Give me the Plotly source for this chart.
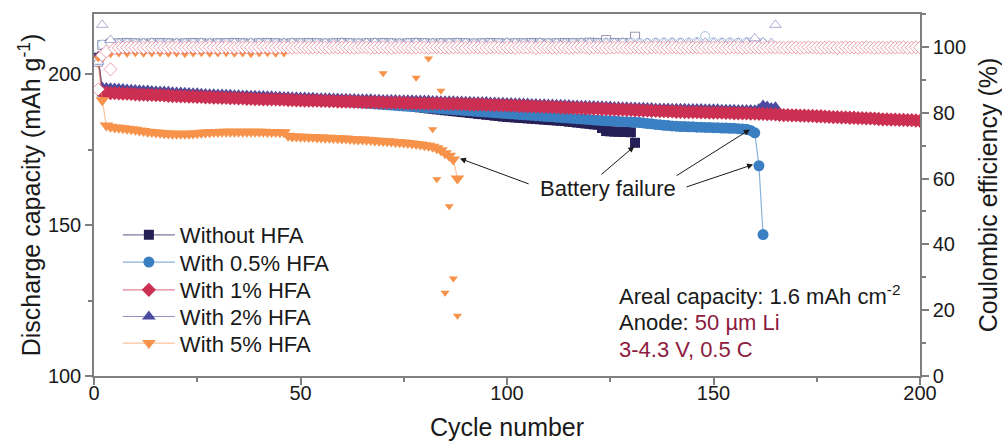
import plotly.graph_objects as go

# ---------------- data (discharge capacity, one value per cycle, rows of 10 cycles) ----------------
cap_navy = [
    205.5, 194.3, 194.2, 194.1, 194.1, 194.0, 193.9, 193.9, 193.8, 193.7,
    193.6, 193.6, 193.5, 193.5, 193.4, 193.4, 193.3, 193.2, 193.1, 193.1,
    193.0, 193.0, 192.9, 192.9, 192.8, 192.8, 192.7, 192.7, 192.6, 192.6,
    192.5, 192.5, 192.4, 192.4, 192.3, 192.3, 192.2, 192.2, 192.1, 192.1,
    192.0, 192.0, 192.0, 192.0, 191.9, 191.9, 191.8, 191.8, 191.7, 191.7,
    191.6, 191.6, 191.6, 191.6, 191.5, 191.5, 191.4, 191.4, 191.3, 191.3,
    191.2, 191.2, 191.1, 191.1, 191.0, 191.0, 190.9, 190.9, 190.8, 190.7,
    190.5, 190.4, 190.2, 190.1, 189.9, 189.7, 189.5, 189.3, 189.1, 188.9,
    188.7, 188.6, 188.4, 188.3, 188.1, 188.0, 187.8, 187.7, 187.5, 187.4,
    187.2, 187.1, 186.9, 186.8, 186.6, 186.5, 186.3, 186.2, 186.0, 185.9,
    185.8, 185.7, 185.6, 185.5, 185.4, 185.3, 185.2, 185.1, 185.0, 184.9,
    184.8, 184.7, 184.6, 184.5, 184.3, 184.2, 184.0, 183.9, 183.7, 183.6,
    183.4, 183.3, 182.2, 181.2, 181.1, 181.0, 181.0, 180.9, 180.9, 180.8,
    177.3]
cap_blue = [
    205.3, 194.3, 194.2, 194.1, 194.1, 194.0, 193.9, 193.9, 193.8, 193.7,
    193.6, 193.6, 193.5, 193.5, 193.4, 193.4, 193.3, 193.2, 193.1, 193.1,
    193.0, 193.0, 192.9, 192.9, 192.8, 192.8, 192.7, 192.7, 192.6, 192.6,
    192.5, 192.5, 192.4, 192.4, 192.3, 192.3, 192.2, 192.2, 192.1, 192.1,
    192.0, 192.0, 191.9, 191.9, 191.8, 191.8, 191.7, 191.7, 191.6, 191.6,
    191.5, 191.5, 191.4, 191.4, 191.3, 191.3, 191.2, 191.2, 191.1, 191.0,
    190.9, 190.8, 190.7, 190.6, 190.5, 190.4, 190.3, 190.2, 190.1, 190.0,
    189.9, 189.8, 189.7, 189.6, 189.5, 189.4, 189.3, 189.2, 189.1, 189.0,
    188.9, 188.8, 188.7, 188.6, 188.5, 188.4, 188.3, 188.2, 188.1, 188.0,
    187.9, 187.8, 187.7, 187.6, 187.5, 187.4, 187.3, 187.2, 187.1, 187.0,
    186.9, 186.8, 186.7, 186.6, 186.5, 186.4, 186.3, 186.2, 186.1, 186.0,
    185.9, 185.8, 185.7, 185.6, 185.5, 185.4, 185.3, 185.2, 185.1, 185.0,
    184.9, 184.8, 184.7, 184.6, 184.6, 184.5, 184.4, 184.3, 184.3, 184.2,
    184.1, 184.0, 183.9, 183.7, 183.6, 183.4, 183.3, 183.1, 183.0, 182.9,
    182.8, 182.7, 182.7, 182.6, 182.6, 182.5, 182.5, 182.4, 182.4, 182.3,
    182.3, 182.2, 182.2, 182.1, 182.1, 182.0, 181.9, 181.8, 181.4, 180.6,
    169.7, 146.9]
cap_red = [
    205.0, 194.0, 193.9, 193.8, 193.8, 193.7, 193.6, 193.6, 193.5, 193.4,
    193.3, 193.3, 193.2, 193.2, 193.1, 193.1, 193.0, 192.9, 192.8, 192.8,
    192.7, 192.7, 192.6, 192.6, 192.5, 192.5, 192.4, 192.4, 192.3, 192.3,
    192.2, 192.2, 192.1, 192.1, 192.0, 192.0, 191.9, 191.9, 191.8, 191.8,
    191.7, 191.7, 191.7, 191.7, 191.6, 191.6, 191.5, 191.5, 191.4, 191.4,
    191.3, 191.3, 191.3, 191.3, 191.2, 191.2, 191.1, 191.1, 191.0, 191.0,
    191.0, 191.0, 190.9, 190.9, 190.8, 190.8, 190.8, 190.8, 190.7, 190.7,
    190.6, 190.6, 190.6, 190.6, 190.5, 190.5, 190.4, 190.4, 190.4, 190.4,
    190.3, 190.3, 190.3, 190.3, 190.2, 190.2, 190.2, 190.2, 190.1, 190.1,
    190.0, 190.0, 190.0, 190.0, 189.9, 189.9, 189.8, 189.8, 189.7, 189.7,
    189.6, 189.6, 189.5, 189.5, 189.4, 189.4, 189.3, 189.3, 189.2, 189.2,
    189.1, 189.1, 189.0, 189.0, 188.9, 188.9, 188.8, 188.8, 188.7, 188.7,
    188.6, 188.6, 188.5, 188.5, 188.4, 188.4, 188.3, 188.3, 188.2, 188.2,
    188.1, 188.1, 188.0, 188.0, 187.9, 187.9, 187.8, 187.8, 187.7, 187.7,
    187.6, 187.6, 187.5, 187.5, 187.5, 187.5, 187.4, 187.4, 187.3, 187.3,
    187.3, 187.3, 187.2, 187.2, 187.1, 187.1, 187.1, 187.1, 187.0, 187.0,
    186.9, 186.9, 186.8, 186.8, 186.7, 186.6, 186.5, 186.5, 186.4, 186.4,
    186.3, 186.3, 186.2, 186.2, 186.1, 186.1, 186.0, 185.9, 185.8, 185.8,
    185.7, 185.7, 185.6, 185.6, 185.5, 185.5, 185.4, 185.4, 185.3, 185.2,
    185.1, 185.1, 185.0, 185.0, 184.9, 184.9, 184.8, 184.8, 184.7, 184.6]
cap_purple = [
    205.8, 195.6, 195.5, 195.4, 195.3, 195.2, 195.1, 195.0, 194.9, 194.8,
    194.7, 194.6, 194.6, 194.5, 194.4, 194.3, 194.3, 194.2, 194.1, 194.0,
    194.0, 193.9, 193.8, 193.7, 193.7, 193.6, 193.5, 193.4, 193.4, 193.3,
    193.3, 193.2, 193.2, 193.1, 193.1, 193.0, 193.0, 192.9, 192.9, 192.8,
    192.8, 192.7, 192.7, 192.6, 192.6, 192.5, 192.5, 192.4, 192.4, 192.3,
    192.3, 192.2, 192.2, 192.1, 192.1, 192.1, 192.1, 192.0, 192.0, 191.9,
    191.9, 191.8, 191.8, 191.7, 191.7, 191.7, 191.7, 191.6, 191.6, 191.5,
    191.5, 191.5, 191.5, 191.4, 191.4, 191.4, 191.4, 191.3, 191.3, 191.3,
    191.3, 191.2, 191.2, 191.1, 191.1, 191.1, 191.1, 191.0, 191.0, 190.9,
    190.9, 190.8, 190.8, 190.8, 190.8, 190.7, 190.7, 190.6, 190.6, 190.5,
    190.5, 190.4, 190.4, 190.3, 190.3, 190.2, 190.2, 190.1, 190.1, 190.0,
    190.0, 189.9, 189.9, 189.8, 189.8, 189.7, 189.7, 189.6, 189.6, 189.5,
    189.5, 189.4, 189.4, 189.3, 189.3, 189.2, 189.2, 189.1, 189.1, 189.0,
    189.0, 188.9, 188.9, 188.8, 188.8, 188.7, 188.7, 188.7, 188.7, 188.6,
    188.6, 188.6, 188.6, 188.5, 188.5, 188.5, 188.5, 188.4, 188.4, 188.4,
    188.4, 188.3, 188.3, 188.3, 188.3, 188.2, 188.2, 188.2, 188.2, 188.1,
    188.5, 189.7, 189.3, 188.8, 189.1]
cap_orange = [
    204.0, 191.4, 183.0, 182.6, 182.4, 182.3, 182.1, 182.0, 181.8, 181.6,
    181.4, 181.2, 181.0, 180.9, 180.7, 180.6, 180.5, 180.4, 180.3, 180.3,
    180.3, 180.3, 180.3, 180.4, 180.5, 180.6, 180.7, 180.8, 180.9, 180.9,
    181.0, 181.0, 181.0, 181.0, 181.0, 181.0, 181.0, 181.0, 181.0, 181.0,
    181.0, 180.9, 180.9, 180.9, 180.8, 180.8, 179.6, 179.4, 179.4, 179.3,
    179.3, 179.2, 179.2, 179.1, 179.1, 179.0, 179.0, 178.9, 178.8, 178.7,
    178.7, 178.6, 178.5, 178.4, 178.4, 178.3, 178.2, 178.1, 178.0, 177.9,
    177.8, 177.7, 177.6, 177.5, 177.4, 177.2, 177.1, 176.9, 176.7, 176.5,
    176.3, 176.0, 175.5, 174.8, 173.8, 173.0, 171.8, 165.5]

cyc_navy = list(range(1, len(cap_navy) + 1))
cyc_blue = list(range(1, len(cap_blue) + 1))
cyc_red = list(range(1, len(cap_red) + 1))
cyc_purple = list(range(1, len(cap_purple) + 1))
cyc_orange = list(range(1, len(cap_orange) + 1))

# ---------------- data (Coulombic efficiency) ----------------
ce_red = [
    87.1, 97.5, 98.6, 93.2, 99.5, 99.7, 99.8, 99.8, 99.9, 99.8,
    99.8, 99.7, 99.9, 99.8, 99.8, 99.9, 99.7, 99.8, 99.9, 99.8,
    99.7, 99.8, 99.9, 99.8, 99.7, 99.8, 99.9, 99.9, 99.8, 99.7,
    99.8, 99.9, 99.8, 99.7, 99.8, 99.8, 99.9, 99.8, 99.7, 99.8,
    99.9, 99.8, 99.8, 99.7, 99.8, 99.9, 99.8, 99.7, 99.8, 99.9,
    99.8, 99.7, 99.8, 99.9, 99.8, 99.8, 99.7, 99.9, 99.8, 99.8,
    99.9, 99.8, 99.7, 99.8, 99.9, 99.8, 99.7, 99.8, 99.8, 99.9,
    99.8, 99.7, 99.8, 99.9, 99.8, 99.8, 99.7, 99.8, 99.9, 99.8,
    99.7, 99.8, 99.9, 99.8, 99.8, 99.7, 99.8, 99.9, 99.8, 99.7,
    99.8, 99.9, 99.8, 99.8, 99.7, 99.8, 99.9, 99.8, 99.7, 99.8,
    99.8, 99.7, 99.9, 99.8, 99.8, 99.9, 99.7, 99.8, 99.9, 99.8,
    99.7, 99.8, 99.9, 99.8, 99.7, 99.8, 99.9, 99.9, 99.8, 99.7,
    99.8, 99.9, 99.8, 99.7, 99.8, 99.8, 99.9, 99.8, 99.7, 99.8,
    99.9, 99.8, 99.8, 99.7, 99.8, 99.9, 99.8, 99.7, 99.8, 99.9,
    99.8, 99.7, 99.8, 99.9, 99.8, 99.8, 99.7, 99.9, 99.8, 99.8,
    99.9, 99.8, 99.7, 99.8, 99.9, 99.8, 99.7, 99.8, 99.8, 99.9,
    99.8, 99.7, 99.8, 99.9, 99.8, 99.8, 99.7, 99.8, 99.9, 99.8,
    99.7, 99.8, 99.9, 99.8, 99.8, 99.7, 99.8, 99.9, 99.8, 99.7,
    99.8, 99.9, 99.8, 99.8, 99.7, 99.8, 99.9, 99.8, 99.7, 99.8,
    99.8, 99.7, 99.9, 99.8, 99.8, 99.9, 99.7, 99.8, 99.9, 99.8]
cyc_red_ce = list(range(1, len(ce_red) + 1))

cyc_navy_ce = [1] + list(range(2, 131, 2)) + [131]
ce_navy = [95.5,
    100.6, 101.0, 101.1, 101.2, 101.1, 101.0, 101.1, 101.2, 101.1, 101.0,
    101.1, 101.2, 101.1, 101.0, 101.1, 101.1, 101.2, 101.1, 101.0, 101.1,
    101.2, 101.1, 101.0, 101.1, 101.1, 101.2, 101.1, 101.0, 101.1, 101.2,
    101.1, 101.0, 101.1, 101.1, 101.2, 101.1, 101.0, 101.1, 101.2, 101.1,
    101.0, 101.1, 101.1, 101.2, 101.1, 101.0, 101.1, 101.2, 101.1, 101.0,
    101.1, 101.1, 101.2, 101.1, 101.0, 101.1, 101.2, 101.1, 101.1, 101.3,
    101.2, 102.1, 101.2, 101.1, 101.2,
    103.1]

cyc_blue_ce = [1] + list(range(2, 159, 2)) + [159, 160, 161, 162]
ce_blue = [96.0,
    100.7, 101.0, 101.1, 101.2, 101.1, 101.0, 101.1, 101.2, 101.1, 101.0,
    101.1, 101.2, 101.1, 101.0, 101.1, 101.2, 101.1, 101.1, 101.0, 101.1,
    101.2, 101.1, 101.0, 101.1, 101.1, 101.2, 101.1, 101.0, 101.1, 101.2,
    101.1, 101.1, 101.0, 101.1, 101.2, 101.1, 101.0, 101.1, 101.1, 101.2,
    101.1, 101.0, 101.1, 101.2, 101.1, 101.1, 101.0, 101.1, 101.2, 101.1,
    101.0, 101.1, 101.1, 101.2, 101.1, 101.0, 101.1, 101.2, 101.1, 101.1,
    101.2, 101.3, 101.2, 101.3, 101.4, 101.3, 101.2, 101.3, 101.4, 101.3,
    101.3, 101.4, 101.5, 103.3, 101.4, 101.3, 101.4, 101.3, 101.4,
    101.3, 101.4, 101.2, 101.0]

cyc_purple_ce = [1] + list(range(2, 165, 2)) + [165]
ce_purple = [95.5,
    106.7, 102.1, 101.1, 101.2, 101.1, 101.2, 101.3, 101.2, 101.1, 101.2,
    101.1, 101.2, 101.3, 101.2, 101.1, 101.2, 101.2, 101.1, 101.3, 101.2,
    101.2, 101.1, 101.2, 101.3, 101.2, 101.1, 101.2, 101.2, 101.1, 101.3,
    101.2, 101.1, 101.2, 101.3, 101.2, 101.2, 101.1, 101.2, 101.3, 101.2,
    101.1, 101.2, 101.2, 101.3, 101.2, 101.1, 101.2, 101.2, 101.1, 101.3,
    101.2, 101.1, 101.2, 101.3, 101.2, 101.2, 101.1, 101.2, 101.3, 101.2,
    101.1, 101.2, 101.2, 101.3, 101.2, 101.1, 101.2, 101.2, 101.1, 101.3,
    101.2, 101.1, 101.2, 101.3, 101.2, 101.2, 101.1, 101.2, 101.3, 102.6,
    101.4, 101.2,
    106.7]

cyc_orange_ce = [1, 2] + list(range(4, 70, 2)) + [70, 72, 74, 76, 78, 80, 81, 82, 83, 84, 85, 86, 87, 88]
ce_orange = [96.5, 97.2,
    97.8, 98.0, 97.9, 98.1, 97.9, 98.0, 98.1, 97.9, 98.0, 97.8,
    98.0, 98.1, 97.9, 98.0, 98.1, 97.9, 98.0, 97.8, 98.0, 98.1,
    97.9, 98.0,
    99.4, 99.5, 99.4, 99.5, 99.4, 99.5, 99.4, 99.5, 99.4, 99.5, 99.4,
    92.0, 99.3, 99.4, 99.3, 90.6, 99.2, 96.5, 75.0, 59.8, 86.7, 25.3, 51.6, 29.6, 18.3]

names = ["Without HFA", "With 0.5% HFA", "With 1% HFA", "With 2% HFA", "With 5% HFA"]

for a, b in [(cyc_navy_ce, ce_navy), (cyc_blue_ce, ce_blue), (cyc_purple_ce, ce_purple),
             (cyc_orange_ce, ce_orange)]:
    assert len(a) == len(b), (len(a), len(b))
assert len(cap_navy) == 131 and len(cap_blue) == 162 and len(cap_red) == 200
assert len(cap_purple) == 165 and len(cap_orange) == 88

# ---------------- style ----------------
NAVY = "#261f55"
BLUE = "#3a7fc2"
RED = "#cb2f52"
PURPLE = "#4a4a9e"
ORANGE = "#f7924a"
AX = "#7f7f7f"
FONT = "Liberation Sans, Arial, Helvetica, sans-serif"

fig = go.Figure()

# Coulombic efficiency (open markers with white fill, right axis)
ce_specs = [
    (cyc_navy_ce, ce_navy, "square", "rgba(38,31,85,0.45)", 9),
    (cyc_blue_ce, ce_blue, "circle", "rgba(58,127,194,0.45)", 9),
    (cyc_purple_ce, ce_purple, "triangle-up", "rgba(74,74,158,0.45)", 10),
]
for x, y, sym, col, sz in ce_specs:
    fig.add_trace(go.Scatter(
        x=x, y=y, yaxis="y2", mode="markers", showlegend=False, hoverinfo="skip",
        marker=dict(symbol=sym, size=sz, color="white", line=dict(color=col, width=1)),
    ))
fig.add_trace(go.Scatter(
    x=cyc_orange_ce, y=ce_orange, yaxis="y2", mode="markers", showlegend=False, hoverinfo="skip",
    marker=dict(symbol="triangle-down", size=8, color=ORANGE, line=dict(width=0)),
))
fig.add_trace(go.Scatter(
    x=cyc_red_ce, y=ce_red, yaxis="y2", mode="markers", showlegend=False, hoverinfo="skip",
    marker=dict(symbol="diamond", size=10, color="white", line=dict(color="rgba(203,47,82,0.45)", width=1)),
))

# Discharge capacity (filled markers, left axis)
legend_y = {"legend": 0.3895, "legend2": 0.3141, "legend3": 0.2376, "legend4": 0.1638, "legend5": 0.0903}
cap_specs = [
    (cyc_navy, cap_navy, names[0], "square", NAVY, "rgba(38,31,85,0.6)", 10, "legend"),
    (cyc_blue, cap_blue, names[1], "circle", BLUE, "rgba(58,127,194,0.6)", 11, "legend2"),
    (cyc_purple, cap_purple, names[3], "triangle-up", PURPLE, "rgba(74,74,158,0.6)", 12, "legend4"),
    (cyc_red, cap_red, names[2], "diamond", RED, "rgba(203,47,82,0.6)", 11, "legend3"),
    (cyc_orange, cap_orange, names[4], "triangle-down", ORANGE, "rgba(247,146,74,0.55)", 12, "legend5"),
]
for x, y, nm, sym, col, lcol, sz, lg in cap_specs:
    fig.add_trace(go.Scatter(
        x=x, y=y, name=nm, mode="lines+markers", legend=lg,
        line=dict(color=lcol, width=1.2),
        marker=dict(symbol=sym, size=sz, color=col, line=dict(width=0)),
    ))

axis_common = dict(
    showline=True, linecolor=AX, linewidth=1.5, ticks="outside", ticklen=7,
    tickwidth=1.5, tickcolor=AX, showgrid=False, zeroline=False, automargin=False,
    tickfont=dict(size=20, color="#1a1a1a", family=FONT),
)
minor_common = dict(ticklen=4, ticks="outside", tickcolor=AX, tickwidth=1.5)

legends = {}
for key, yy in legend_y.items():
    legends[key] = dict(x=0.0289, y=yy, xanchor="left", yanchor="middle",
                        bgcolor="rgba(0,0,0,0)", font=dict(size=22, family=FONT, color="#1a1a1a"),
                        itemwidth=52)

fig.update_layout(
    width=1002, height=441,
    margin=dict(l=94, r=82, t=14, b=65),
    paper_bgcolor="white", plot_bgcolor="white",
    font=dict(family=FONT, size=20, color="#1a1a1a"),
    xaxis=dict(range=[0, 200], dtick=50, tick0=0, mirror=True, ticklabelstandoff=-9,
               minor=dict(dtick=25, **minor_common),
               title=dict(text="Cycle number", font=dict(size=25), standoff=19),
               **axis_common),
    yaxis=dict(range=[100, 220], dtick=50, tick0=0,
               minor=dict(dtick=25, **minor_common),
               title=dict(text="Discharge capacity (mAh g<sup>-1</sup>)", font=dict(size=25), standoff=0),
               **axis_common),
    yaxis2=dict(range=[0, 110], dtick=20, tick0=0, overlaying="y", side="right",
                minor=dict(dtick=10, **minor_common),
                title=dict(text="Coulombic efficiency (%)", font=dict(size=25), standoff=14),
                **axis_common),
    showlegend=True,
    **legends,
)

MAROON = "#8c1b40"
fig.add_annotation(x=124.5, y=162.1, xref="x", yref="y", text="Battery failure",
                   showarrow=False, font=dict(size=22, color="#1a1a1a"))
for hx, hy, tx, ty in [(88.6, 172.1, 105.6, 163.5), (130.8, 176.1, 122.5, 166.4),
                       (158.8, 181.7, 140.7, 166.1), (159.6, 170.1, 143.1, 162.5)]:
    fig.add_annotation(x=hx, y=hy, ax=tx, ay=ty, xref="x", yref="y", axref="x", ayref="y",
                       text="", showarrow=True, arrowhead=2, arrowsize=1.2, arrowwidth=1,
                       arrowcolor="#1a1a1a")

fig.add_annotation(x=126.6, y=127.0, xref="x", yref="y", xanchor="left", showarrow=False,
                   text="Areal capacity: 1.6 mAh cm<sup>-2</sup>", font=dict(size=22, color="#1a1a1a"))
fig.add_annotation(x=126.6, y=117.7, xref="x", yref="y", xanchor="left", showarrow=False,
                   text=f"Anode: <span style='color:{MAROON}'>50 µm Li</span>",
                   font=dict(size=22, color="#1a1a1a"))
fig.add_annotation(x=126.6, y=108.8, xref="x", yref="y", xanchor="left", showarrow=False,
                   text="3-4.3 V, 0.5 C", font=dict(size=22, color=MAROON))

fig.write_html("out.html")
